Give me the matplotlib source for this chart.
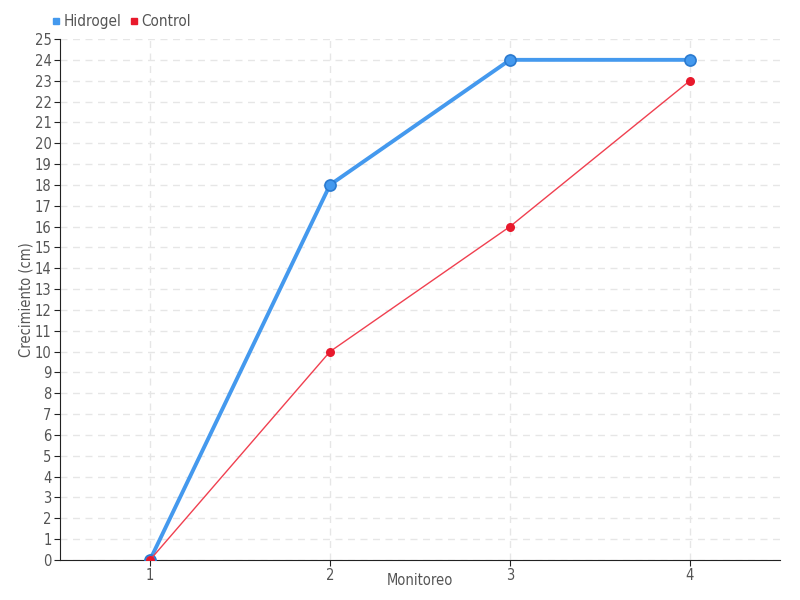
import matplotlib
matplotlib.use('Agg')
import matplotlib.pyplot as plt
from matplotlib.lines import Line2D

plt.rcParams['font.family'] = ['DejaVu Sans']
plt.rcParams['font.stretch'] = 'condensed'

monitoreo = [1, 2, 3, 4]
hidrogel = [0, 18, 24, 24]
control = [0, 10, 16, 23]

azul = '#4499ee'
rojo = '#e8192c'
gris = '#555555'

fig = plt.figure(figsize=(8, 6), dpi=100)
ax = fig.add_axes([0.075, 0.0667, 0.9, 0.8683])

ax.plot(monitoreo, hidrogel, '-', color=azul, linewidth=2.8, zorder=3)
ax.plot(monitoreo, hidrogel, 'o', color=azul, markersize=8,
        markeredgecolor='#2a7ad0', markeredgewidth=1.2, zorder=4)
ax.plot(monitoreo, control, '-', color='#f04050', linewidth=1, zorder=5)
ax.plot(monitoreo, control, 'o', color=rojo, markersize=6.5,
        markeredgewidth=0, zorder=6)

ax.set_xlim(0.5, 4.5)
ax.set_ylim(0, 25)
ax.set_xticks(monitoreo)
ax.set_yticks(range(0, 26))
ax.tick_params(colors='#222222', labelcolor=gris, labelsize=10.5, length=4, pad=2)
ax.grid(True, linestyle=(0, (5, 4)), color='#e6e6e6', linewidth=1)
ax.set_axisbelow(True)
for s in ['top', 'right']:
    ax.spines[s].set_visible(False)
ax.spines['left'].set_color('#222222')
ax.spines['bottom'].set_color('#222222')

ax.set_xlabel('Monitoreo', color=gris, fontsize=10.5)
ax.xaxis.set_label_coords(0.5, -0.025)
ax.set_ylabel('Crecimiento (cm)', color=gris, fontsize=10.5)
ax.yaxis.set_label_coords(-0.037, 0.5)

handles = [Line2D([], [], marker='s', color=azul, linestyle='none', markersize=5),
           Line2D([], [], marker='s', color=rojo, linestyle='none', markersize=5)]
fig.legend(handles, ['Hidrogel', 'Control'], loc='upper left',
           bbox_to_anchor=(0.045, 0.999), ncol=2, frameon=False,
           handletextpad=0.1, columnspacing=0.4, handlelength=0.8,
           labelcolor=gris, fontsize=11)

fig.savefig('out.png', dpi=100)
